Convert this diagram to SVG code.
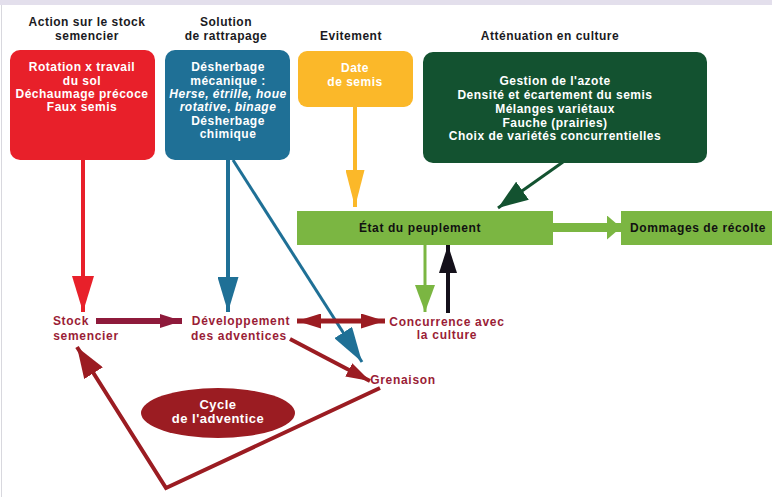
<svg xmlns="http://www.w3.org/2000/svg" width="772" height="497" viewBox="0 0 772 497">
<defs>
<style>
.hd{font-family:"Liberation Sans",Arial,sans-serif;font-weight:bold;font-size:12px;fill:#1a1a22;text-anchor:middle;letter-spacing:0.5px}
.wt{font-family:"Liberation Sans",Arial,sans-serif;font-weight:bold;font-size:12px;fill:#ffffff;text-anchor:middle;letter-spacing:0.5px}
.it{font-style:italic}
.bk{font-family:"Liberation Sans",Arial,sans-serif;font-weight:bold;font-size:12px;fill:#111111;text-anchor:middle;letter-spacing:0.6px}
.mr{font-family:"Liberation Sans",Arial,sans-serif;font-weight:bold;font-size:12px;fill:#9a1d36;text-anchor:middle;letter-spacing:0.7px}
.ln{fill:none;stroke-linecap:butt;stroke-linejoin:miter}
</style>
<marker id="mRed" markerUnits="userSpaceOnUse" markerWidth="36" markerHeight="22" refX="36" refY="11" orient="auto"><path d="M0,0 L36,11 L0,22 z" fill="#e8202a"/></marker>
<marker id="mBlue" markerUnits="userSpaceOnUse" markerWidth="35" markerHeight="21" refX="35" refY="10.5" orient="auto"><path d="M0,0 L35,10.5 L0,21 z" fill="#1f7096"/></marker>
<marker id="mYel" markerUnits="userSpaceOnUse" markerWidth="37" markerHeight="19" refX="37" refY="9.5" orient="auto"><path d="M0,0 L37,9.5 L0,19 z" fill="#fbb829"/></marker>
<marker id="mDg" markerUnits="userSpaceOnUse" markerWidth="30" markerHeight="22" refX="30" refY="11" orient="auto"><path d="M0,0 L30,11 L0,22 z" fill="#135230"/></marker>
<marker id="mLg" markerUnits="userSpaceOnUse" markerWidth="27" markerHeight="20" refX="27" refY="10" orient="auto"><path d="M0,0 L27,10 L0,20 z" fill="#7bb642"/></marker>
<marker id="mBlk" markerUnits="userSpaceOnUse" markerWidth="28" markerHeight="18" refX="28" refY="9" orient="auto"><path d="M0,0 L28,9 L0,18 z" fill="#14101a"/></marker>
<marker id="mFat" markerUnits="userSpaceOnUse" markerWidth="14" markerHeight="24" refX="14" refY="12" orient="auto"><path d="M0,0 L14,12 L0,24 z" fill="#7bb642"/></marker>
<marker id="mPur" markerUnits="userSpaceOnUse" markerWidth="22" markerHeight="14" refX="22" refY="7" orient="auto"><path d="M0,0 L22,7 L0,14 z" fill="#8e1a3b"/></marker>
<marker id="mMar" markerUnits="userSpaceOnUse" markerWidth="24" markerHeight="15" refX="24" refY="7.5" orient="auto-start-reverse"><path d="M0,0 L24,7.5 L0,15 z" fill="#9b1c22"/></marker>
<marker id="mMarBig" markerUnits="userSpaceOnUse" markerWidth="31" markerHeight="22" refX="31" refY="11" orient="auto"><path d="M0,0 L31,11 L0,22 z" fill="#9b1c22"/></marker>
</defs>
<rect x="0" y="0" width="772" height="497" fill="#ffffff"/>
<rect x="0" y="0" width="772" height="5" fill="#e3dfec"/>
<line x1="1.5" y1="5" x2="1.5" y2="497" stroke="#d8d8de" stroke-width="1"/>

<g id="headers">
<text class="hd" x="87" y="26">Action sur le stock</text>
<text class="hd" x="87" y="40">semencier</text>
<text class="hd" x="226" y="26">Solution</text>
<text class="hd" x="226" y="40">de rattrapage</text>
<text class="hd" x="351" y="40">Evitement</text>
<text class="hd" x="550" y="40">Atténuation en culture</text>
</g>

<g id="connectors">
<path class="ln" d="M83,160 V312" stroke="#e8202a" stroke-width="4" marker-end="url(#mRed)"/>
<path class="ln" d="M228,160 V312" stroke="#1f7096" stroke-width="4" marker-end="url(#mBlue)"/>
<path class="ln" d="M233,160 L362,362" stroke="#1f7096" stroke-width="3" marker-end="url(#mBlue)"/>
<path class="ln" d="M355,107 V207" stroke="#fbb829" stroke-width="4" marker-end="url(#mYel)"/>
<path class="ln" d="M563,162 L498,208" stroke="#135230" stroke-width="3" marker-end="url(#mDg)"/>
<path class="ln" d="M425,245 V312" stroke="#7bb642" stroke-width="3" marker-end="url(#mLg)"/>
<path class="ln" d="M448,313 V245" stroke="#14101a" stroke-width="4" marker-end="url(#mBlk)"/>
<path class="ln" d="M553,227.5 H621" stroke="#7bb642" stroke-width="9" marker-end="url(#mFat)"/>
<path class="ln" d="M96,321 H182" stroke="#8e1a3b" stroke-width="6" marker-end="url(#mPur)"/>
<path class="ln" d="M297,321 H385" stroke="#9b1c22" stroke-width="5" marker-start="url(#mMar)" marker-end="url(#mMar)"/>
<path class="ln" d="M290,339 L370,381" stroke="#9b1c22" stroke-width="4" marker-end="url(#mMar)"/>
<path class="ln" d="M380,388 L166,488 L77,347" stroke="#9b1c22" stroke-width="4" marker-end="url(#mMarBig)"/>
</g>

<g id="stock-action">
<rect x="10" y="50" width="145" height="110" rx="10" fill="#e8202a"/>
<text class="wt" x="82" y="71">Rotation x travail</text>
<text class="wt" x="82" y="85">du sol</text>
<text class="wt" x="82" y="98">Déchaumage précoce</text>
<text class="wt" x="82" y="111">Faux semis</text>
</g>

<g id="rattrapage">
<rect x="165" y="50" width="125" height="110" rx="10" fill="#1f7096"/>
<text class="wt" x="228" y="71">Désherbage</text>
<text class="wt" x="228" y="85">mécanique :</text>
<text class="wt it" x="228" y="98">Herse, étrille, houe</text>
<text class="wt" x="228" y="111"><tspan class="it">rotative</tspan>, <tspan class="it">binage</tspan></text>
<text class="wt" x="228" y="125">Désherbage</text>
<text class="wt" x="228" y="138">chimique</text>
</g>

<g id="evitement">
<rect x="298" y="51" width="115" height="56" rx="9" fill="#fbb829"/>
<text class="wt" x="355" y="72">Date</text>
<text class="wt" x="355" y="86">de semis</text>
</g>

<g id="attenuation">
<rect x="423" y="52" width="284" height="111" rx="10" fill="#135230"/>
<text class="wt" x="555" y="85">Gestion de l'azote</text>
<text class="wt" x="555" y="99">Densité et écartement du semis</text>
<text class="wt" x="555" y="113">Mélanges variétaux</text>
<text class="wt" x="555" y="127">Fauche (prairies)</text>
<text class="wt" x="555" y="140">Choix de variétés concurrentielles</text>
</g>

<g id="etat-peuplement">
<rect x="297" y="211" width="256" height="34" fill="#7bb642"/>
<text class="bk" x="420" y="232">État du peuplement</text>
</g>

<g id="dommages">
<rect x="621" y="211" width="151" height="34" fill="#7bb642"/>
<text class="bk" x="698" y="232">Dommages de récolte</text>
</g>

<g id="stock">
<text class="mr" x="71" y="325">Stock</text>
<text class="mr" x="86" y="340">semencier</text>
</g>

<g id="developpement">
<text class="mr" x="241" y="325">Développement</text>
<text class="mr" x="239" y="340">des adventices</text>
</g>

<g id="concurrence">
<text class="mr" x="447" y="326">Concurrence avec</text>
<text class="mr" x="447" y="339">la culture</text>
</g>

<g id="grenaison">
<text class="mr" x="403" y="384">Grenaison</text>
</g>

<g id="cycle">
<ellipse cx="218" cy="413" rx="77" ry="25" fill="#9b1c22"/>
<text class="wt" x="218" y="409" style="font-size:13px">Cycle</text>
<text class="wt" x="218" y="423" style="font-size:13px">de l'adventice</text>
</g>
</svg>
